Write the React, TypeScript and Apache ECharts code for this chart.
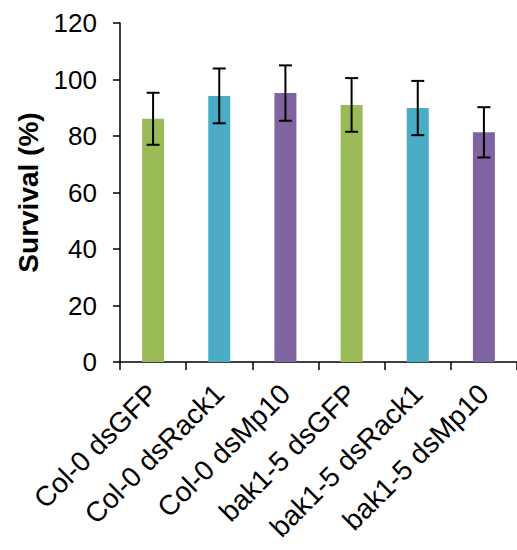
import React, { useEffect, useRef } from "react";
import * as echarts from "echarts";

const categories = ["Col-0 dsGFP", "Col-0 dsRack1", "Col-0 dsMp10", "bak1-5 dsGFP", "bak1-5 dsRack1", "bak1-5 dsMp10"];
const survival = [86.1, 94.2, 95.2, 91.0, 89.9, 81.3];
const errors = [9.2, 9.7, 9.8, 9.5, 9.6, 8.9];
const colors = ["#9BBB59", "#4BACC6", "#8064A2", "#9BBB59", "#4BACC6", "#8064A2"];
const yTicks = { min: 0, max: 120, interval: 20 };

export default function App() {
  const ref = useRef<HTMLDivElement>(null);
  useEffect(() => {
    if (!ref.current) return;
    const chart = echarts.init(ref.current, null, { renderer: "svg" });
    const font = "Liberation Sans, Arial, sans-serif";
    chart.setOption({
      animation: false,
      backgroundColor: "#ffffff",
      grid: { left: 120, right: -5, top: 23, bottom: 188, containLabel: false },
      xAxis: {
        type: "category",
        data: categories,
        axisLine: { lineStyle: { color: "#000", width: 1.5 } },
        axisTick: { show: true, length: 8, lineStyle: { color: "#000", width: 1.5 } },
        axisLabel: { rotate: 45, fontSize: 28, color: "#000", fontFamily: font, margin: 27, interval: 0 },
      },
      yAxis: {
        type: "value",
        min: yTicks.min,
        max: yTicks.max,
        interval: yTicks.interval,
        name: "Survival (%)",
        nameLocation: "middle",
        nameGap: 77,
        nameTextStyle: { fontSize: 28, fontWeight: "bold", color: "#000", fontFamily: font },
        axisLine: { show: true, lineStyle: { color: "#000", width: 1.5 } },
        axisTick: { show: true, length: 7, lineStyle: { color: "#000", width: 1.5 } },
        axisLabel: { fontSize: 26, color: "#000", fontFamily: font, margin: 23 },
        splitLine: { show: false },
      },
      series: [
        {
          type: "bar",
          barWidth: 22,
          data: survival.map((v, i) => ({ value: v, itemStyle: { color: colors[i] } })),
        },
        {
          type: "custom",
          data: survival.map((v, i) => [i, v - errors[i], v + errors[i]]),
          renderItem: (params: any, api: any) => {
            const x = api.value(0);
            const lo = api.coord([x, api.value(1)]);
            const hi = api.coord([x, api.value(2)]);
            const hw = 6.5;
            const style = { stroke: "#000", lineWidth: 2 };
            return {
              type: "group",
              children: [
                { type: "line", shape: { x1: lo[0], y1: lo[1], x2: hi[0], y2: hi[1] }, style },
                { type: "line", shape: { x1: hi[0] - hw, y1: hi[1], x2: hi[0] + hw, y2: hi[1] }, style },
                { type: "line", shape: { x1: lo[0] - hw, y1: lo[1], x2: lo[0] + hw, y2: lo[1] }, style },
              ],
            };
          },
          z: 10,
        },
      ],
    });
    return () => chart.dispose();
  }, []);
  return <div ref={ref} style={{ position: "fixed", left: 0, top: 0, width: 517, height: 550 }} />;
}
